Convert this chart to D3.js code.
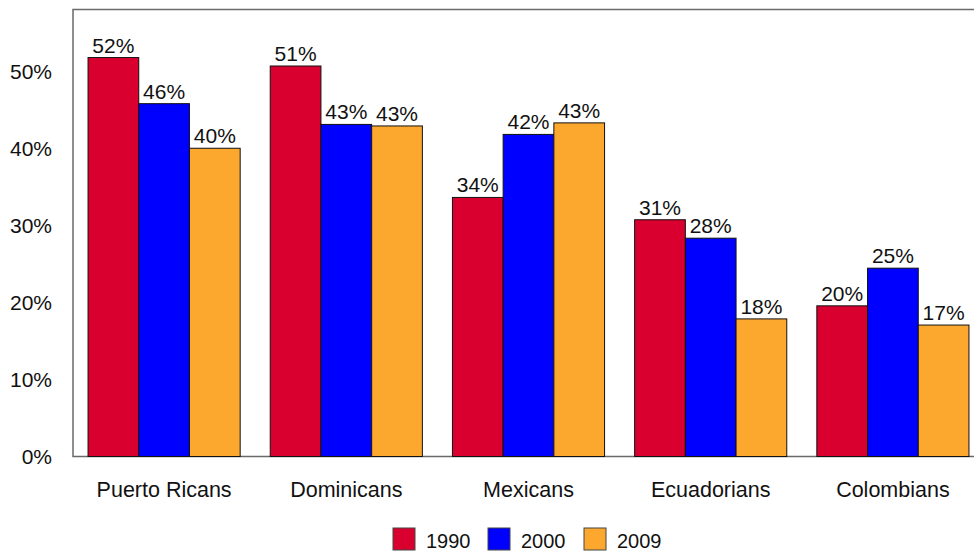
<!DOCTYPE html>
<html>
<head>
<meta charset="utf-8">
<script src="https://cdn.jsdelivr.net/npm/d3@7"></script>
<style>
  body { margin: 0; background: #fff; }
  text { font-family: "Liberation Sans", Arial, sans-serif; fill: #111; }
</style>
</head>
<body>
<div id="chart"></div>
<script>
// groups and yearly shares
var groups = ["Puerto Ricans", "Dominicans", "Mexicans", "Ecuadorians", "Colombians"];
var years = ["1990", "2000", "2009"];
var v1990 = [51.9, 50.8, 33.7, 30.8, 19.6];
var v2000 = [45.9, 43.2, 41.9, 28.4, 24.5];
var v2009 = [40.1, 43.0, 43.4, 17.9, 17.1];
var yTicks = [0, 10, 20, 30, 40, 50];
var colours = ["#d9002f", "#0000ff", "#fca82f"];

var series = [v1990, v2000, v2009];

var W = 974, H = 552;
var plotLeft = 73, plotRight = 984, plotTop = 9.5, plotBottom = 456.5;

var svg = d3.select("#chart").append("svg")
  .attr("width", W)
  .attr("height", H);

var x0 = d3.scaleBand()
  .domain(groups)
  .range([plotLeft, plotRight])
  .paddingInner(0.165)
  .paddingOuter(0.0825);

var x1 = d3.scaleBand()
  .domain(years)
  .range([0, x0.bandwidth()]);

var y = d3.scaleLinear()
  .domain([0, 58.15])
  .range([plotBottom, plotTop]);

// frame: left, top, bottom
svg.append("path")
  .attr("d", "M" + (W + 2) + "," + plotTop + "H" + plotLeft + "V" + plotBottom + "H" + (W + 2))
  .attr("fill", "none")
  .attr("stroke", "#6a6a6a")
  .attr("stroke-width", 1.5);

// y axis labels only
var yAxis = svg.append("g")
  .attr("transform", "translate(" + plotLeft + ",0)")
  .call(d3.axisLeft(y).tickValues(yTicks).tickSize(0).tickPadding(21)
    .tickFormat(function (d) { return d + "%"; }));
yAxis.select(".domain").remove();
yAxis.selectAll("text")
  .style("font-size", "21px")
  .style("font-family", "Liberation Sans, Arial, sans-serif")
  .attr("fill", "#111");

// x axis labels
var xAxis = svg.append("g")
  .attr("transform", "translate(0," + plotBottom + ")")
  .call(d3.axisBottom(x0).tickSize(0).tickPadding(25));
xAxis.select(".domain").remove();
xAxis.selectAll("text")
  .style("font-size", "21.5px")
  .style("font-family", "Liberation Sans, Arial, sans-serif")
  .attr("fill", "#111");

var rows = [];
groups.forEach(function (g, i) {
  years.forEach(function (yr, j) {
    rows.push({ group: g, year: yr, value: series[j][i], colour: colours[j] });
  });
});

svg.selectAll(".bar")
  .data(rows)
  .enter()
  .append("rect")
  .attr("class", "bar")
  .attr("x", function (d) { return x0(d.group) + x1(d.year); })
  .attr("y", function (d) { return y(d.value); })
  .attr("width", x1.bandwidth())
  .attr("height", function (d) { return y(0) - y(d.value); })
  .attr("fill", function (d) { return d.colour; })
  .attr("stroke", "#111")
  .attr("stroke-width", 1);

svg.selectAll(".lbl")
  .data(rows)
  .enter()
  .append("text")
  .attr("class", "lbl")
  .attr("x", function (d) { return x0(d.group) + x1(d.year) + x1.bandwidth() / 2; })
  .attr("y", function (d) { return y(d.value) - 5; })
  .attr("text-anchor", "middle")
  .style("font-size", "21px")
  .text(function (d) { return Math.round(d.value) + "%"; });

// legend
var legendX = [393, 488, 584];
var leg = svg.selectAll(".leg")
  .data(years)
  .enter()
  .append("g")
  .attr("class", "leg")
  .attr("transform", function (d, i) { return "translate(" + legendX[i] + ",528)"; });

leg.append("rect")
  .attr("width", 22)
  .attr("height", 22)
  .attr("fill", function (d, i) { return colours[i]; })
  .attr("stroke", "#444")
  .attr("stroke-width", 1);

leg.append("text")
  .attr("x", 33)
  .attr("y", 20)
  .style("font-size", "20px")
  .text(function (d) { return d; });
</script>
</body>
</html>
